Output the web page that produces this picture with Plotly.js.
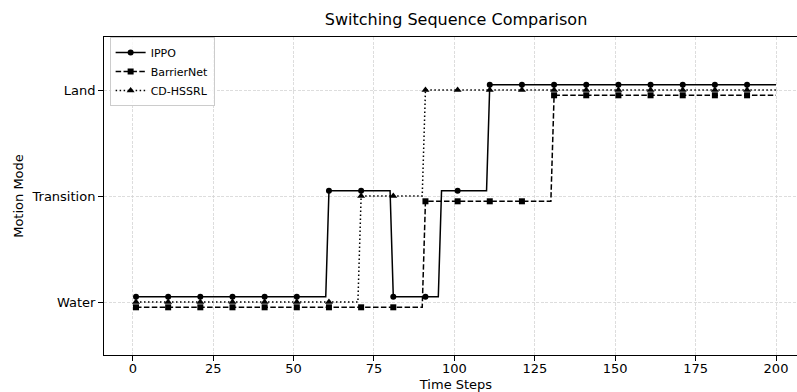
<!DOCTYPE html>
<html>
<head>
<meta charset="utf-8">
<script src="https://cdn.plot.ly/plotly-3.0.1.min.js"></script>
<style>
  html, body { margin: 0; padding: 0; overflow: hidden; background: #ffffff; }
  #chart { width: 809px; height: 392px; }
</style>
</head>
<body>
<div id="chart"></div>
<script>
// ---- Data ----
const modeLabels = ['Water', 'Transition', 'Land'];
const firstStep = 1;
const lastStep = 200;

// Step at which each mode begins (mode holds until next switch)
const ippoSwitchSteps = [1, 61, 81, 96, 111];
const ippoModes = ['Water', 'Transition', 'Water', 'Transition', 'Land'];

const barrierSwitchSteps = [1, 91, 131];
const barrierModes = ['Water', 'Transition', 'Land'];

const cdSwitchSteps = [1, 71, 91];
const cdModes = ['Water', 'Transition', 'Land'];

const seriesNames = ['IPPO', 'BarrierNet', 'CD-HSSRL'];

// ---- Build per-step sequences ----
function expand(switchSteps, modes) {
  const xs = [], ys = [];
  for (let t = firstStep; t <= lastStep; t++) {
    let idx = 0;
    for (let k = 0; k < switchSteps.length; k++) if (switchSteps[k] <= t) idx = k;
    xs.push(t);
    ys.push(modeLabels.indexOf(modes[idx]));
  }
  return { xs, ys };
}

const markEvery = 10;
function markerColors(xs) {
  return xs.map((t, i) => (i % markEvery === 0) ? '#000000' : 'rgba(0,0,0,0)');
}

const styles = [
  { offset: 0.05, dash: 'solid', symbol: 'circle', size: 6 },
  { offset: -0.05, dash: '5.5px,2.4px', symbol: 'square', size: 6 },
  { offset: 0.0, dash: '1.5px,2.5px', symbol: 'triangle-up', size: 7 }
];

const seqs = [
  expand(ippoSwitchSteps, ippoModes),
  expand(barrierSwitchSteps, barrierModes),
  expand(cdSwitchSteps, cdModes)
];

const traces = seqs.map((s, i) => ({
  type: 'scatter',
  mode: 'lines+markers',
  name: seriesNames[i],
  x: s.xs,
  y: s.ys.map(v => v + styles[i].offset),
  line: { color: '#000000', width: 1.5, dash: styles[i].dash },
  marker: {
    symbol: styles[i].symbol,
    size: styles[i].size,
    color: markerColors(s.xs),
    line: { width: 0 }
  },
  hoverinfo: 'skip'
}));

const fontFamily = 'DejaVu Sans, sans-serif';

const layout = {
  width: 809,
  height: 392,
  margin: { l: 104, r: 1, t: 37, b: 37, pad: 0 },
  paper_bgcolor: '#ffffff',
  plot_bgcolor: '#ffffff',
  font: { family: fontFamily, size: 13, color: '#000000' },
  title: {
    text: 'Switching Sequence Comparison',
    font: { family: fontFamily, size: 16, color: '#000000' },
    x: 0.5, xref: 'paper', xanchor: 'center',
    y: 1 - 19 / 392, yref: 'container', yanchor: 'middle'
  },
  showlegend: true,
  legend: {
    x: 0.008, y: 1.0, xanchor: 'left', yanchor: 'top',
    xref: 'paper', yref: 'paper',
    bgcolor: 'rgba(255,255,255,0.8)',
    bordercolor: '#cccccc',
    borderwidth: 1,
    font: { family: fontFamily, size: 11, color: '#000000' },
    itemwidth: 30,
    tracegroupgap: 0
  },
  xaxis: {
    range: [-8.95, 209.95],
    tickvals: [0, 25, 50, 75, 100, 125, 150, 175, 200],
    ticks: 'outside', ticklen: 5, tickwidth: 1, tickcolor: '#000000',
    ticklabelstandoff: -4,
    showline: true, linecolor: '#000000', linewidth: 1, mirror: true,
    showgrid: true, gridcolor: '#d4d4d4', gridwidth: 0.8, griddash: '3px,1.5px',
    zeroline: false,
    tickfont: { family: fontFamily, size: 13, color: '#000000' },
    title: { text: 'Time Steps', font: { family: fontFamily, size: 13, color: '#000000' }, standoff: 9 }
  },
  yaxis: {
    range: [-0.5, 2.5],
    tickvals: [0, 1, 2],
    ticktext: modeLabels,
    ticks: 'outside', ticklen: 5, tickwidth: 1, tickcolor: '#000000',
    showline: true, linecolor: '#000000', linewidth: 1, mirror: true,
    showgrid: true, gridcolor: '#d4d4d4', gridwidth: 0.8, griddash: '3px,1.5px',
    zeroline: false,
    tickfont: { family: fontFamily, size: 13, color: '#000000' },
    title: { text: 'Motion Mode', font: { family: fontFamily, size: 13, color: '#000000' }, standoff: 4 }
  }
};

Plotly.newPlot('chart', traces, layout, { staticPlot: true, displayModeBar: false });
</script>
</body>
</html>
